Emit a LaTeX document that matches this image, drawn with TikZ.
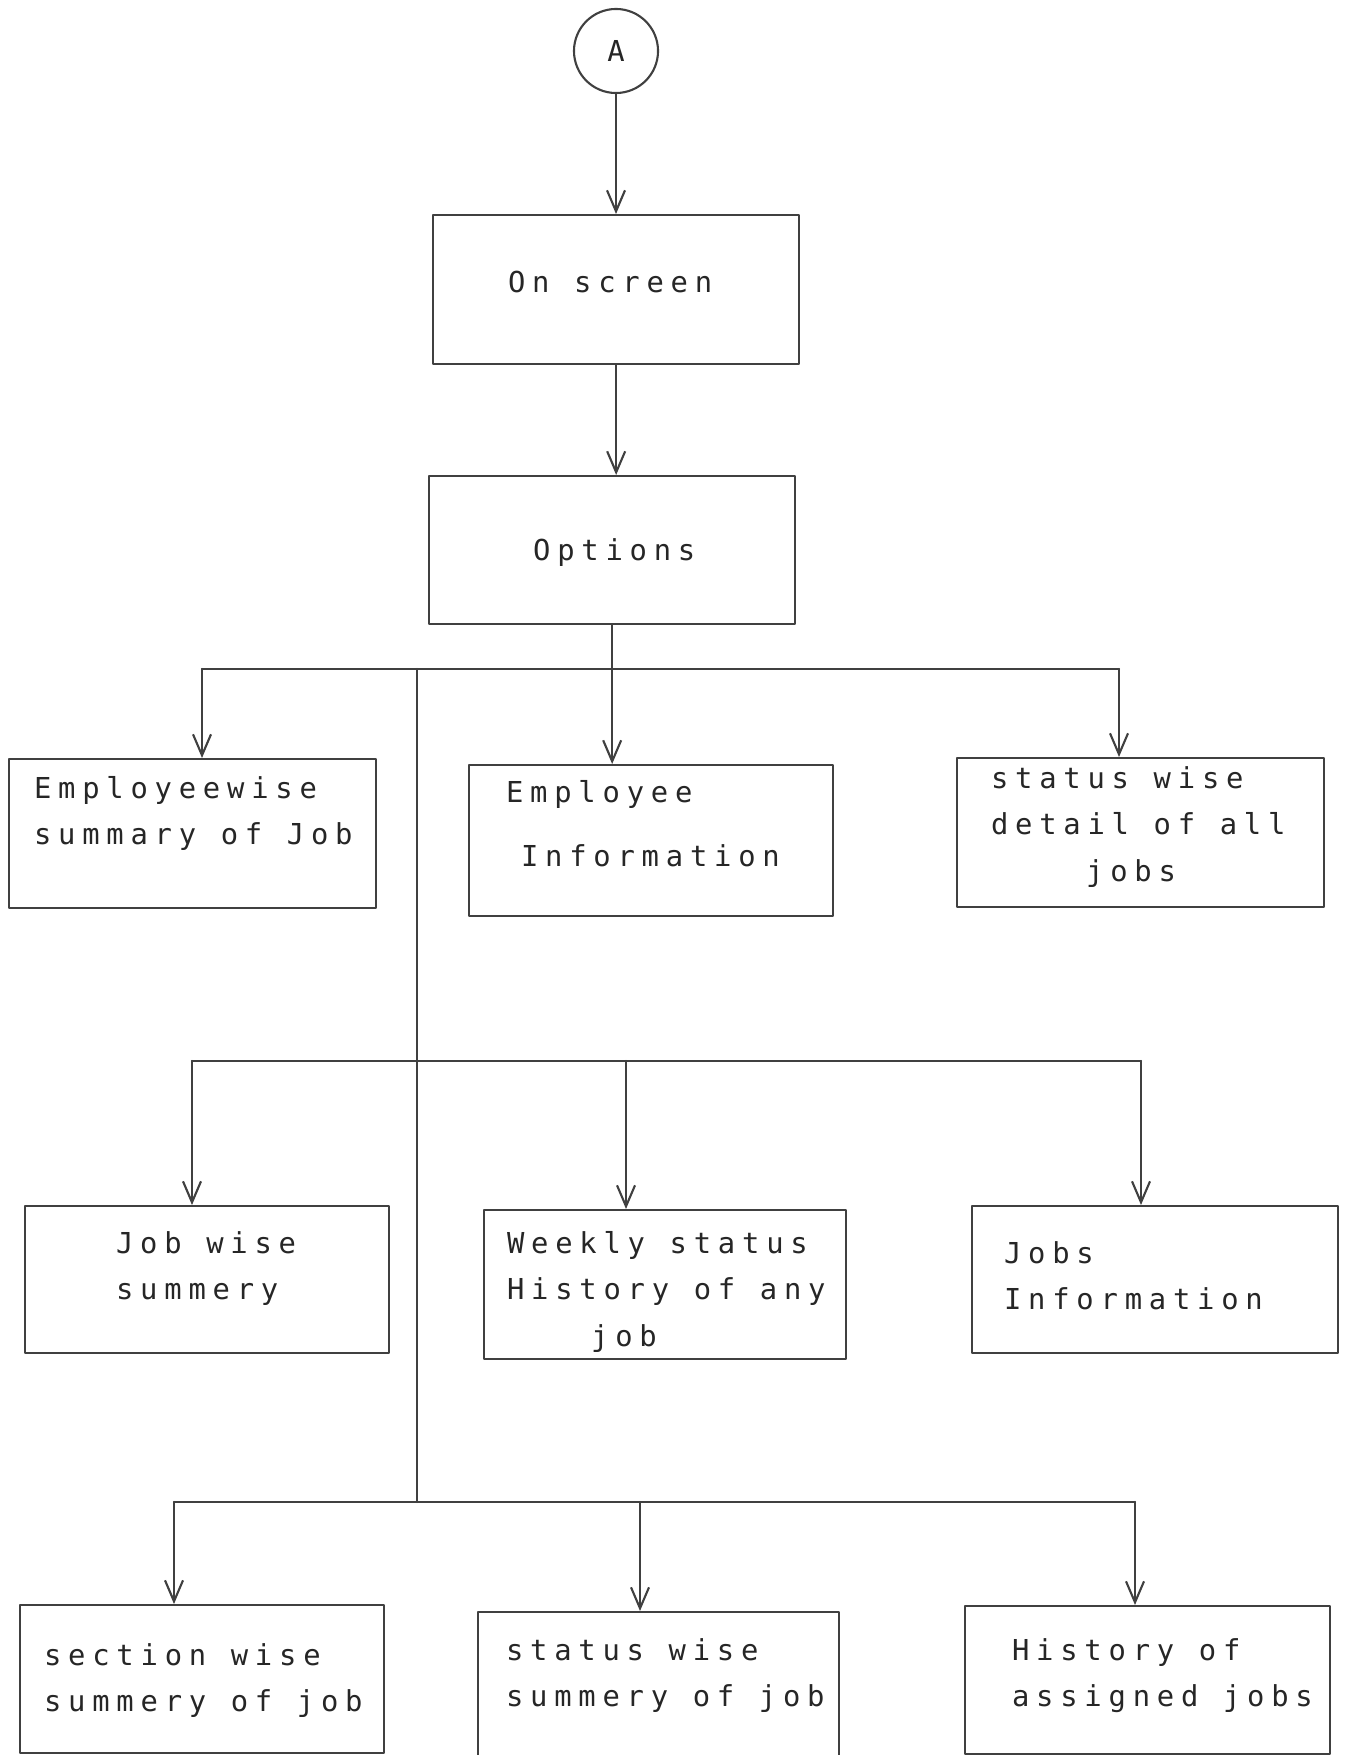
\documentclass[tikz,border=0pt]{standalone}
\usepackage{fontspec}
\newfontfamily\dosfont[LetterSpace=23.5]{DejaVu Sans Mono}
\usetikzlibrary{arrows.meta}
\newcommand{\boxlines}[1]{\begin{tabular}[t]{@{}l@{}}#1\end{tabular}}
\newcommand{\dossize}{\dosfont\fontsize{8.2}{13.3}\selectfont}
\newcommand{\wsp}{\hspace*{7pt}}

\begin{document}
\begin{tikzpicture}[line cap=round,line join=round,x=0.01cm,y=-0.01cm,
	box/.style={draw=black!75,line width=0.6pt,inner sep=0pt,anchor=north west,text=black!85,font=\dossize},
	flow/.style={draw=black!75,line width=0.6pt},
	arr/.style={flow,-{Straight Barb[length=2.1mm,width=1.8mm]}}]
	\useasboundingbox (0,0) rectangle (1346,1755);
	\clip (0,0) rectangle (1346,1755);
	% top of the chart
	\node[circle,draw=black!75,line width=0.6pt,minimum size=0.84cm,inner sep=0pt,text=black!85,font=\dossize] (start) at (616,51) {A};
	\node[box,text width=3.66cm,text height=0.77cm,text depth=0.72cm] (onscreen) at (432,214) {\hspace*{0.75cm}On\wsp screen};
	\node[box,text width=3.66cm,text height=0.84cm,text depth=0.64cm] (options) at (428,475) {\hspace*{1.04cm}Options};
	% first row
	\node[box,text width=3.67cm,text height=0.39cm,text depth=1.10cm] (empsum) at (8,758) {\hspace*{0.25cm}\boxlines{Employeewise\\summary\wsp of\wsp Job}};
	\node[box,text width=3.64cm,text height=0.37cm,text depth=1.14cm] (empinfo) at (468,764) {\hspace*{0.37cm}\boxlines{Employee\\[0.18cm]\hspace*{0.15cm}Information}};
	\node[box,text width=3.67cm,text height=0.30cm,text depth=1.19cm] (statusdet) at (956,757) {\hspace*{0.34cm}\boxlines{status\wsp wise\\detail\wsp of\wsp all\\\hspace*{0.95cm}jobs}};
	% second row
	\node[box,text width=3.64cm,text height=0.47cm,text depth=1.00cm] (jobsum) at (24,1205) {\hspace*{0.91cm}\boxlines{Job\wsp wise\\summery}};
	\node[box,text width=3.62cm,text height=0.43cm,text depth=1.06cm] (weekly) at (483,1209) {\hspace*{0.23cm}\boxlines{Weekly\wsp status\\History\wsp of\wsp any\\\hspace*{0.84cm}job}};
	\node[box,text width=3.66cm,text height=0.57cm,text depth=0.90cm] (jobsinfo) at (971,1205) {\hspace*{0.32cm}\boxlines{Jobs\\Information}};
	% third row
	\node[box,text width=3.64cm,text height=0.60cm,text depth=0.88cm] (sectsum) at (19,1604) {\hspace*{0.24cm}\boxlines{section\wsp wise\\summery\wsp of\wsp job}};
	\node[box,text width=3.61cm,text height=0.48cm,text depth=1.12cm] (statsum) at (477,1611) {\hspace*{0.28cm}\boxlines{status\wsp wise\\summery\wsp of\wsp job}};
	\node[box,text width=3.65cm,text height=0.54cm,text depth=0.94cm] (history) at (964,1605) {\hspace*{0.47cm}\boxlines{History\wsp of\\assigned\wsp jobs}};
	% bus lines
	\coordinate (b1l) at (202,669);
	\coordinate (b1r) at (1119,669);
	\coordinate (b1m) at (options.south |- b1l);
	\coordinate (spine) at (417,669);
	\coordinate (b2l) at (192,1061);
	\coordinate (b2m) at (626,1061);
	\coordinate (b2r) at (1141,1061);
	\coordinate (b3l) at (174,1502);
	\coordinate (b3m) at (640,1502);
	\coordinate (b3r) at (1135,1502);
	\coordinate (b3s) at (417,1502);
	\draw [arr] (start) -- (start |- onscreen.north);
	\draw [arr] (onscreen) -- (onscreen |- options.north);
	\draw [flow] (options.south) -- (b1m);
	\draw [flow] (b1l) -- (b1r);
	\draw [flow] (spine) -- (b3s);
	\draw [flow] (b2l) -- (b2r);
	\draw [flow] (b3l) -- (b3r);
	\draw [arr] (b1l) -- (b1l |- empsum.north);
	\draw [arr] (b1m) -- (b1m |- empinfo.north);
	\draw [arr] (b1r) -- (b1r |- statusdet.north);
	\draw [arr] (b2l) -- (b2l |- jobsum.north);
	\draw [arr] (b2m) -- (b2m |- weekly.north);
	\draw [arr] (b2r) -- (b2r |- jobsinfo.north);
	\draw [arr] (b3l) -- (b3l |- sectsum.north);
	\draw [arr] (b3m) -- (b3m |- statsum.north);
	\draw [arr] (b3r) -- (b3r |- history.north);
\end{tikzpicture}
\end{document}
